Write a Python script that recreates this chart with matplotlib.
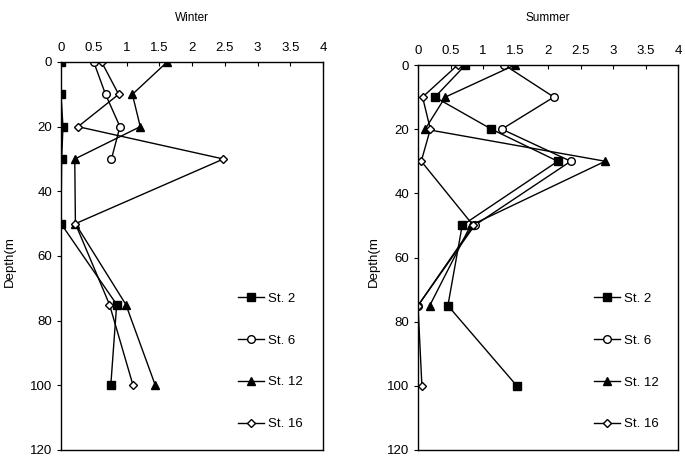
import matplotlib
matplotlib.use("Agg")
import matplotlib.pyplot as plt
import numpy as np

plt.rcParams['font.family'] = ['Liberation Sans', 'DejaVu Sans']

depths = [0, 10, 20, 30, 50, 75, 100]
stations = ["St. 2", "St. 6", "St. 12", "St. 16"]

# Winter values (None = no data)
winter_st2 = [0.0, 0.0, 0.03, 0.01, 0.0, 0.85, 0.76]
winter_st6 = [0.50, 0.68, 0.90, 0.77, None, None, None]
winter_st12 = [1.62, 1.09, 1.21, 0.21, 0.22, 0.99, 1.44]
winter_st16 = [0.62, 0.88, 0.26, 2.48, 0.22, 0.74, 1.10]

# Summer values
summer_st2 = [0.73, 0.26, 1.13, 2.15, 0.68, 0.46, 1.52]
summer_st6 = [1.33, 2.09, 1.29, 2.35, 0.87, 0.0, None]
summer_st12 = [1.49, 0.42, 0.11, 2.88, 0.81, 0.18, None]
summer_st16 = [0.61, 0.07, 0.19, 0.05, 0.85, 0.0, 0.06]

xticks = [0, 0.5, 1, 1.5, 2, 2.5, 3, 3.5, 4]
xticklabels = ["0", "0.5", "1", "1.5", "2", "2.5", "3", "3.5", "4"]
yticks = [0, 20, 40, 60, 80, 100, 120]

styles = [
    dict(marker='s', mfc='black', mec='black', ms=5.5),
    dict(marker='o', mfc='white', mec='black', ms=5.5),
    dict(marker='^', mfc='black', mec='black', ms=6),
    dict(marker='D', mfc='white', mec='black', ms=4),
]

fig = plt.figure(figsize=(6.85, 4.62), dpi=100)
W, H = 685, 462
panels = [
    ("Winter", [winter_st2, winter_st6, winter_st12, winter_st16], (61, 62, 323, 450), 10),
    ("Summer", [summer_st2, summer_st6, summer_st12, summer_st16], (418, 65, 678, 450), 374),
]

for title, series, (x0, y0, x1, y1), ylab_x in panels:
    ax = fig.add_axes([x0 / W, 1 - y1 / H, (x1 - x0) / W, (y1 - y0) / H])
    for name, vals, st in zip(stations, series, styles):
        d = [dd for dd, v in zip(depths, vals) if v is not None]
        v = [vv for vv in vals if vv is not None]
        ax.plot(v, d, color='black', lw=1.0, label=name, **st)
    ax.set_xlim(0, 4)
    ax.set_ylim(120, 0)
    ax.xaxis.tick_top()
    ax.set_xticks(xticks)
    ax.set_xticklabels(xticklabels)
    ax.set_yticks(yticks)
    ax.tick_params(axis='x', direction='in', length=3, labelsize=9.5, pad=6)
    ax.tick_params(axis='y', direction='out', length=3, labelsize=9.5)
    for s in ax.spines.values():
        s.set_linewidth(1.0)
    fig.text((x0 + x1) / 2 / W, 1 - 18 / H, title, ha='center', va='center', fontsize=8.5)
    fig.text(ylab_x / W, 1 - 262 / H, "Depth(m", rotation=90, ha='center', va='center', fontsize=9.5)
    leg = ax.legend(loc='lower left', bbox_to_anchor=(0.63, 0.02), frameon=False,
                    fontsize=9.5, labelspacing=2.25, handlelength=2.0, handletextpad=0.3)

fig.savefig("out.png", dpi=100)
